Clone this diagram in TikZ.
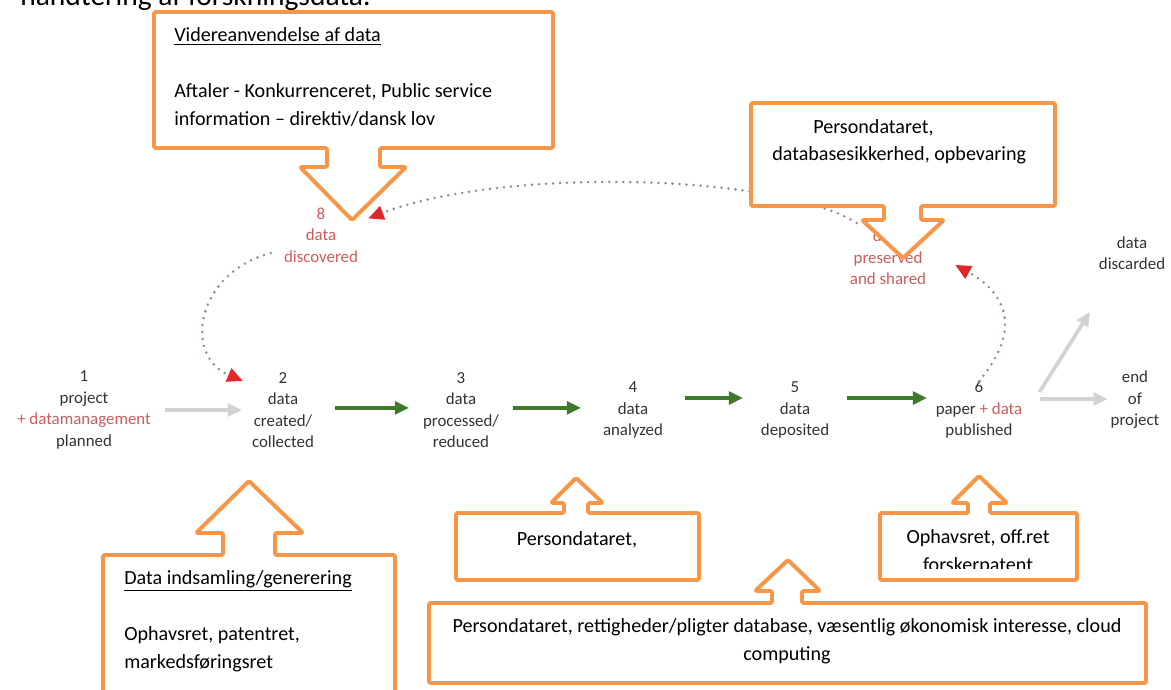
\documentclass[tikz,border=0pt]{standalone}
\usepackage{fontspec}
\setmainfont{Carlito}
\usepackage{xcolor}
\usepackage{tikz}
\usetikzlibrary{arrows.meta,calc}
\definecolor{calloutorange}{HTML}{F79646}
\definecolor{flowgreen}{HTML}{3F7A2C}
\definecolor{flowgrey}{HTML}{D2D2D2}
\definecolor{labelred}{HTML}{CC5B5E}
\definecolor{labelgray}{HTML}{333333}
\definecolor{dotgray}{HTML}{A08686}
\definecolor{tipred}{HTML}{E3262B}

\begin{document}
\begin{tikzpicture}[
  x=0.025cm,
  y=-0.025cm,
  stage/.style={
    align=center,
    inner sep=0pt,
    text=labelgray,
    font=\fontsize{12}{15.3}\selectfont
  },
  stagered/.style={
    stage,
    text=labelred
  },
  flow/.style={
    draw=flowgreen,
    line width=2.8pt,
    -{Triangle[length=10pt,width=9pt]},
    shorten <=37pt,
    shorten >=37pt
  },
  flowgray/.style={
    draw=flowgrey,
    line width=2.6pt,
    -{Triangle[length=10pt,width=9pt]}
  },
  backflow/.style={
    draw=dotgray,
    line width=2pt,
    line cap=round,
    dash pattern=on 0pt off 5pt,
    -{Triangle[length=11pt,width=10pt,color=tipred]}
  },
  callout/.style={
    draw=calloutorange,
    fill=white,
    line width=2.8pt,
    line join=round,
    rounded corners=1pt
  },
  calltext/.style={
    align=left,
    inner sep=0pt,
    text=black,
    font=\fontsize{14.3}{19.8}\selectfont
  }
]

\useasboundingbox (0,0) rectangle (1171,690);

% Heading, cut off at the top
\node[anchor=base west, inner sep=0pt, font=\fontsize{21}{24}\selectfont] (heading) at (20,6) {håndtering af forskningsdata.};

% Life cycle stages
\node[stage] (n1) at (84,410) {1\\project\\{\color{labelred}+ datamanagement}\\planned};
\node[stage] (n2) at (283,410) {2\\data\\created/\\collected};
\node[stage] (n3) at (461,410) {3\\data\\processed/\\reduced};
\node[stage] (n4) at (633,410) {4\\data\\analyzed};
\node[stage] (n5) at (795,410) {5\\data\\deposited};
\node[stage] (n6) at (979,410) {6\\paper {\color{labelred}+ data}\\published};
\node[stage] (nend) at (1135,400) {end\\of\\project};
\node[stage] (ndisc) at (1132,253) {data\\discarded};
\node[stagered] (n7) at (888,247) {7\\data\\preserved\\and shared};
\node[stagered] (n8) at (321,235) {8\\data\\discovered};

% Main flow
\draw[flowgray, shorten <=10pt, shorten >=7pt] (n1.east) -- (n2.west);
\draw[flow] ([yshift=1.5pt]n2.center) -- ([yshift=1.5pt]n3.center);
\draw[flow] ([yshift=1.5pt]n3.center) -- ([yshift=1.5pt]n4.center);
\draw[flow] ([yshift=8.5pt]n4.center) -- ([yshift=8.5pt]n5.center);
\draw[flow] ([yshift=8.5pt]n5.center) -- ([yshift=8.5pt]n6.center);

% End of project
\coordinate (fork) at ([shift={(17,-11)}]n6.east);
\draw[flowgray, shorten >=2pt] (fork) -- (fork -| nend.west);
\draw[flowgray] ([yshift=5pt]fork) -- ([shift={(-42,42)}]ndisc.south);

% Reuse loop
\draw[backflow] (n6.north) .. controls +(38,-45) and +(58,32) .. ([shift={(29,18)}]n7.east);
\draw[backflow] ([shift={(7,14)}]n7.north west) .. controls +(-80,-50) and +(132,-51) .. ([shift={(10,11)}]n8.north east);
\draw[backflow] ([shift={(-13,18)}]n8.west) .. controls +(-75,20) and +(-60,-25) .. ([shift={(-9,9)}]n2.north west);

% Callouts
\draw[callout] (154,12) -- (553,12) -- (553,148) -- (380,148) -- (380,167) -- (406,167)
  -- (352,220) -- (300,167) -- (327,167) -- (327,148) -- (154,148) -- cycle;
\draw[callout] (751,103) -- (1055,103) -- (1055,206) -- (921,206) -- (921,220) -- (944,220)
  -- (903,258) -- (862,220) -- (884,220) -- (884,206) -- (751,206) -- cycle;
\draw[callout] (103,700) -- (103,555) -- (223,555) -- (223,533) -- (196,533) -- (249,481)
  -- (303,533) -- (275,533) -- (275,555) -- (395,555) -- (395,700) -- cycle;
\draw[callout] (456,580) -- (456,513) -- (564,513) -- (564,503) -- (551,503) -- (576,478)
  -- (603,503) -- (588,503) -- (588,513) -- (699,513) -- (699,580) -- cycle;
\draw[callout] (429,683) -- (429,603) -- (772,603) -- (772,591) -- (755,591) -- (788,560)
  -- (820,591) -- (802,591) -- (802,603) -- (1146,603) -- (1146,683) -- cycle;
\draw[callout] (880,580) -- (880,513) -- (968,513) -- (968,503) -- (952,503) -- (979,476)
  -- (1007,503) -- (990,503) -- (990,513) -- (1077,513) -- (1077,580) -- cycle;

% Callout texts
\node[calltext, anchor=west] (reusetext) at (174,77)
  {\underline{Videreanvendelse af data}\\\mbox{}\\Aftaler - Konkurrenceret, Public service\\information – direktiv/dansk lov};
\node[calltext, anchor=west] (storetext1) at (813,128) {Persondataret,};
\node[calltext, anchor=west] (storetext2) at (772,155) {databasesikkerhed, opbevaring};
\node[calltext, anchor=west] (collecttext) at (124,621)
  {\underline{Data indsamling/generering}\\\mbox{}\\Ophavsret, patentret,\\markedsføringsret};
\node[calltext] (analyzetext) at (577,540) {Persondataret,};
\node[calltext, align=center] (deposittext) at (787,641)
  {Persondataret, rettigheder/pligter database, væsentlig økonomisk interesse, cloud\\computing};
\begin{scope}
  \clip (880,513) rectangle (1077,568);
  \node[calltext, align=center] (publishtext) at (978,552) {Ophavsret, off.ret\\forskerpatent};
\end{scope}

\end{tikzpicture}
\end{document}
